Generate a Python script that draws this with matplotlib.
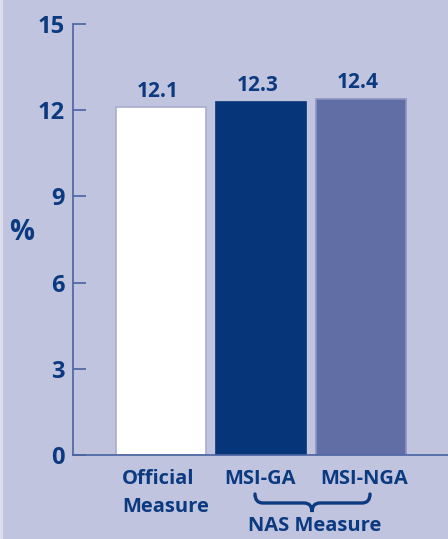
import matplotlib.pyplot as plt
from matplotlib.patches import Rectangle, PathPatch
from matplotlib.path import Path

categories = ['Official\nMeasure', 'MSI-GA', 'MSI-NGA']
values = [12.1, 12.3, 12.4]
value_labels = ['12.1', '12.3', '12.4']
yticks = [0, 3, 6, 9, 12, 15]
group_label = 'NAS Measure'

bg = '#c0c4de'
txt = '#0b3a80'
axis_col = '#4a62a0'
bar_colors = ['#ffffff', '#06357a', '#616ea6']
edge_colors = ['#a9adcf', '#06357a', '#8a93c2']

plt.rcParams['font.family'] = ['Open Sans', 'DejaVu Sans']
plt.rcParams['font.weight'] = 'bold'

fig = plt.figure(figsize=(4.48, 5.39), dpi=100, facecolor=bg)
fig.patches.append(Rectangle((0, 0), 3 / 448, 1, transform=fig.transFigure,
                             facecolor='#dcdeec', edgecolor='none', zorder=0))
ax = fig.add_axes([73 / 448, 84 / 539, 375 / 448, 431 / 539])
ax.set_facecolor(bg)

x = list(range(len(values)))
ax.bar(x, values, width=0.9, color=bar_colors, edgecolor=edge_colors, linewidth=1.2, zorder=2)
for xi, v, lab in zip(x, values, value_labels):
    ax.text(xi - 0.03, v + 0.2, lab, ha='center', va='bottom', color=txt,
            fontsize=15, fontweight='bold')

ax.set_xlim(-0.88, 2.87)
ax.set_ylim(0, 15)
ax.set_yticks(yticks)
ax.set_yticklabels([str(t) for t in yticks])
ax.tick_params(axis='y', direction='in', length=9, width=1.2, color=axis_col,
               labelcolor=txt, labelsize=17, pad=6)
for lab in ax.get_yticklabels():
    lab.set_fontweight('bold')
ax.set_xticks([])
for s in ['top', 'right']:
    ax.spines[s].set_visible(False)
for s in ['left', 'bottom']:
    ax.spines[s].set_color(axis_col)
    ax.spines[s].set_linewidth(1.2)

fig.text(22 / 448, 1 - 233 / 539, '%', ha='center', va='center', color=txt,
         fontsize=20, fontweight='bold')

# category labels under the axis
fig.text(122 / 448, 1 - 469 / 539, categories[0], ha='left', va='top', color=txt,
         fontsize=14.5, fontweight='bold', linespacing=1.55)
fig.text(260 / 448, 1 - 469 / 539, categories[1], ha='center', va='top', color=txt,
         fontsize=14.5, fontweight='bold')
fig.text(364 / 448, 1 - 469 / 539, categories[2], ha='center', va='top', color=txt,
         fontsize=14.5, fontweight='bold')

# brace grouping the NAS measures
def px(xp, yp):
    return (xp / 448, 1 - yp / 539)

xl, xr, xm = 255, 370, 312
y0, y1, y2 = 494, 503, 512
verts = [px(xl, y0), px(xl, y1), px(xl + 8, y1),
         px(xm - 8, y1), px(xm, y1), px(xm, y2),
         px(xm, y1), px(xm + 8, y1),
         px(xr - 8, y1), px(xr, y1), px(xr, y0)]
codes = [Path.MOVETO, Path.CURVE3, Path.CURVE3,
         Path.LINETO, Path.CURVE3, Path.CURVE3,
         Path.CURVE3, Path.CURVE3,
         Path.LINETO, Path.CURVE3, Path.CURVE3]
brace = PathPatch(Path(verts, codes), transform=fig.transFigure, facecolor='none',
                  edgecolor=txt, linewidth=2.4, capstyle='round')
fig.patches.append(brace)

fig.text(315 / 448, 1 - 516 / 539, group_label, ha='center', va='top', color=txt,
         fontsize=14.5, fontweight='bold')

fig.savefig('out.png', dpi=100, facecolor=bg)
